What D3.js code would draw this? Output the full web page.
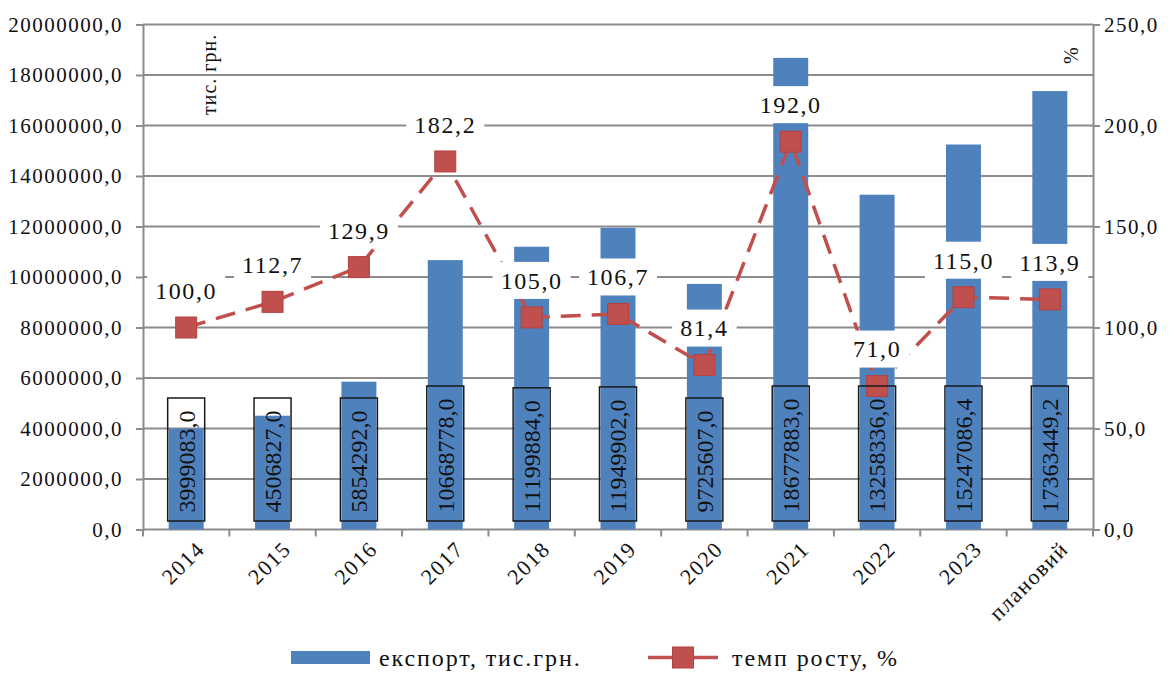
<!DOCTYPE html>
<html>
<head>
<meta charset="utf-8">
<script src="https://cdn.jsdelivr.net/npm/d3@7"></script>
<style>
  html, body { margin: 0; padding: 0; background: #fff; }
  svg, svg text { font-family: "Times New Roman", "Liberation Serif", Tinos, serif; }
</style>
</head>
<body>
<svg id="chart" width="1173" height="673"></svg>
<script>
// Export volume (thousand UAH) and growth rate (%) by year
const categories = ["2014", "2015", "2016", "2017", "2018", "2019", "2020", "2021", "2022", "2023", "плановий"];
const exportValues = [3999083.0, 4506827.0, 5854292.0, 10668778.0, 11199884.0, 11949902.0, 9725607.0, 18677883.0, 13258336.0, 15247086.4, 17363449.2];
const growthValues = [100.0, 112.7, 129.9, 182.2, 105.0, 106.7, 81.4, 192.0, 71.0, 115.0, 113.9];
const leftTicks = [0, 2000000, 4000000, 6000000, 8000000, 10000000, 12000000, 14000000, 16000000, 18000000, 20000000];
const rightTicks = [0, 50, 100, 150, 200, 250];
const seriesNames = ["експорт, тис.грн.", "темп росту, %"];
const leftUnit = "тис. грн.";
const rightUnit = "%";

const BAR = "#4F81BD", LINE = "#C0504D", GRID = "#8c8c8c", TEXT = "#111";
const fmt = v => d3.format(".1f")(v).replace(".", ",");

const svg = d3.select("#chart");
const plotL = 143, plotR = 1093, plotT = 24.5, plotB = 529.5;

const x = d3.scaleBand().domain(categories).range([plotL, plotR]).padding(0);
const yL = d3.scaleLinear().domain([0, 20000000]).range([plotB, plotT]);
const yR = d3.scaleLinear().domain([0, 250]).range([plotB, plotT]);
const cx = c => x(c) + x.bandwidth() / 2;
const barW = x.bandwidth() * 0.405;

// gridlines
svg.append("g").selectAll("line").data(leftTicks.filter(t => t > 0)).join("line")
  .attr("x1", plotL).attr("x2", plotR)
  .attr("y1", d => yL(d)).attr("y2", d => yL(d))
  .attr("stroke", GRID).attr("stroke-width", 2);

// left axis
const gL = svg.append("g").attr("transform", `translate(${plotL},0)`)
  .call(d3.axisLeft(yL).tickValues(leftTicks).tickFormat(fmt).tickSize(7).tickPadding(13));
// right axis
const gR = svg.append("g").attr("transform", `translate(${plotR},0)`)
  .call(d3.axisRight(yR).tickValues(rightTicks).tickFormat(fmt).tickSize(7).tickPadding(4));
[gL, gR].forEach(g => {
  g.attr("font-family", null).attr("font-size", null);
  g.select(".domain").attr("stroke", GRID).attr("stroke-width", 2);
  g.selectAll(".tick line").attr("stroke", GRID).attr("stroke-width", 2);
  g.selectAll(".tick text").attr("fill", TEXT).style("font-size", "21px").style("letter-spacing", "1.5px");
});

// bottom axis: ticks at category boundaries
const gB = svg.append("g");
gB.append("line").attr("x1", plotL).attr("x2", plotR).attr("y1", plotB).attr("y2", plotB)
  .attr("stroke", GRID).attr("stroke-width", 2);
gB.selectAll("line.tk").data(categories.concat([null])).join("line").attr("class", "tk")
  .attr("x1", (d, i) => i < categories.length ? x(d) : plotR)
  .attr("x2", (d, i) => i < categories.length ? x(d) : plotR)
  .attr("y1", plotB).attr("y2", plotB + 7)
  .attr("stroke", GRID).attr("stroke-width", 2);
gB.selectAll("text").data(categories).join("text")
  .attr("transform", d => `translate(${cx(d) + 9},${plotB + 10}) rotate(-45)`)
  .attr("text-anchor", "end").attr("dy", "0.7em")
  .attr("fill", TEXT).style("font-size", "22px").style("letter-spacing", "1.5px")
  .text(d => d);

// bars
svg.append("g").selectAll("rect").data(exportValues).join("rect")
  .attr("x", (d, i) => cx(categories[i]) - barW / 2)
  .attr("width", barW)
  .attr("y", d => yL(d))
  .attr("height", d => plotB - yL(d))
  .attr("fill", BAR);

// growth line (dashed) with square markers
const pts = growthValues.map((v, i) => [cx(categories[i]), yR(v)]);
svg.append("path").datum(pts)
  .attr("d", d3.line())
  .attr("fill", "none").attr("stroke", LINE).attr("stroke-width", 3.5)
  .attr("stroke-dasharray", "20,11");
const MS = 21;
svg.append("g").selectAll("rect").data(pts).join("rect")
  .attr("x", d => d[0] - MS / 2).attr("y", d => d[1] - MS / 2)
  .attr("width", MS).attr("height", MS)
  .attr("fill", LINE).attr("stroke", "#b5423f").attr("stroke-width", 1);

// bar value labels: rotated text inside an outlined box
const gBL = svg.append("g");
exportValues.forEach((v, i) => {
  const c = cx(categories[i]);
  const g = gBL.append("g");
  const t = g.append("text")
    .attr("transform", `translate(${c},${plotB - 17}) rotate(-90)`)
    .attr("dy", "0.35em").attr("text-anchor", "start")
    .attr("fill", TEXT).style("font-size", "24px")
    .text(fmt(v));
  const len = t.node().getComputedTextLength();
  const bw = 37, bh = len + 21;
  g.insert("rect", "text")
    .attr("x", c - bw / 2).attr("y", plotB - 8.5 - bh)
    .attr("width", bw).attr("height", bh)
    .attr("fill", "none").attr("stroke", "#1a1a1a").attr("stroke-width", 1.5);
});

// growth value labels on white boxes above the markers
const gLL = svg.append("g");
pts.forEach((p, i) => {
  const g = gLL.append("g");
  const ly = p[1] - 37;
  const t = g.append("text")
    .attr("x", p[0]).attr("y", ly).attr("dy", "0.35em")
    .attr("text-anchor", "middle").attr("fill", TEXT)
    .style("font-size", "24px").style("letter-spacing", "1.6px")
    .text(fmt(growthValues[i]));
  const len = t.node().getComputedTextLength();
  const bw = len + 16, bh = 37;
  g.insert("rect", "text")
    .attr("x", p[0] - bw / 2).attr("y", ly - bh / 2)
    .attr("width", bw).attr("height", bh).attr("fill", "#fff");
});

// axis unit captions
svg.append("text").attr("transform", `translate(${216},${115}) rotate(-90)`)
  .attr("text-anchor", "start").attr("fill", TEXT).style("font-size", "20px").style("letter-spacing", "1px")
  .text(leftUnit);
svg.append("text").attr("transform", `translate(${1078},${64}) rotate(-90)`)
  .attr("text-anchor", "start").attr("fill", TEXT).style("font-size", "20px")
  .text(rightUnit);

// legend
const lg = svg.append("g");
const ly0 = 657.5;
lg.append("rect").attr("x", 291).attr("y", ly0 - 6.5).attr("width", 79).attr("height", 13).attr("fill", BAR);
lg.append("text").attr("x", 379).attr("y", ly0).attr("dy", "0.35em").attr("fill", TEXT)
  .style("font-size", "24px").style("letter-spacing", "1.9px").text(seriesNames[0]);
lg.append("line").attr("x1", 648).attr("x2", 718).attr("y1", ly0).attr("y2", ly0)
  .attr("stroke", LINE).attr("stroke-width", 3.5);
lg.append("rect").attr("x", 683 - MS / 2).attr("y", ly0 - MS / 2).attr("width", MS).attr("height", MS)
  .attr("fill", LINE).attr("stroke", "#b5423f").attr("stroke-width", 1);
lg.append("text").attr("x", 732).attr("y", ly0).attr("dy", "0.35em").attr("fill", TEXT)
  .style("font-size", "24px").style("letter-spacing", "1.9px").text(seriesNames[1]);
</script>
</body>
</html>
